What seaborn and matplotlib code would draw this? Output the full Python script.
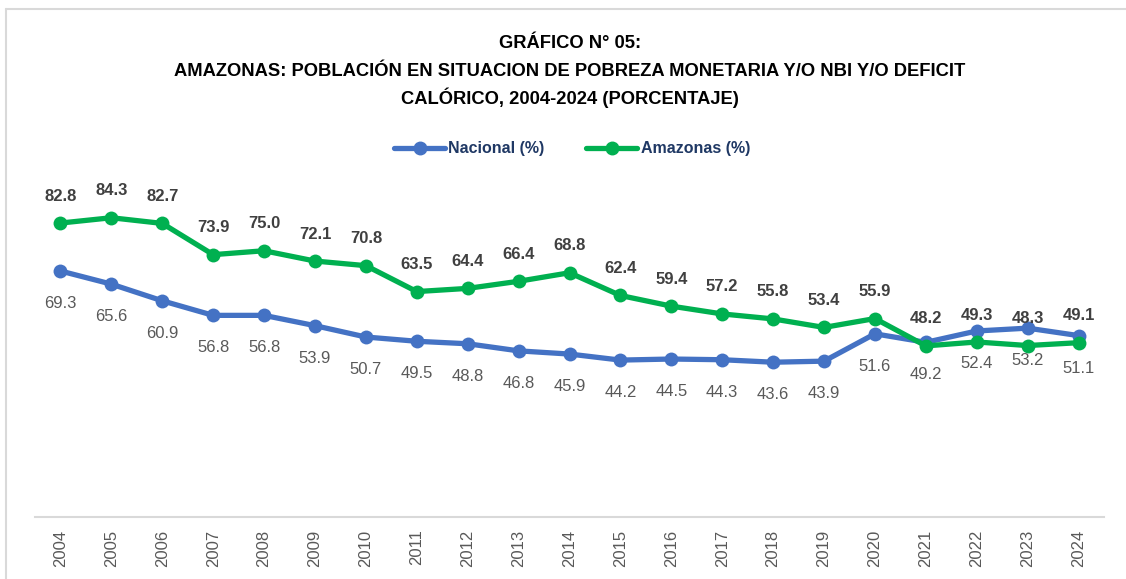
import matplotlib
matplotlib.use("Agg")
import matplotlib.pyplot as plt
import seaborn as sns
import pandas as pd
from matplotlib.lines import Line2D

years = [str(y) for y in range(2004, 2025)]
nacional = [69.3, 65.6, 60.9, 56.8, 56.8, 53.9, 50.7, 49.5, 48.8, 46.8, 45.9,
            44.2, 44.5, 44.3, 43.6, 43.9, 51.6, 49.2, 52.4, 53.2, 51.1]
amazonas = [82.8, 84.3, 82.7, 73.9, 75.0, 72.1, 70.8, 63.5, 64.4, 66.4, 68.8,
            62.4, 59.4, 57.2, 55.8, 53.4, 55.9, 48.2, 49.3, 48.3, 49.1]
series_names = ["Nacional (%)", "Amazonas (%)"]
colors = ["#4472C4", "#00B050"]
title_lines = ["GRÁFICO N° 05:",
               "AMAZONAS: POBLACIÓN EN SITUACION DE POBREZA MONETARIA Y/O NBI Y/O DEFICIT",
               "CALÓRICO, 2004-2024 (PORCENTAJE)"]

sns.set_theme(style="white")
plt.rcParams['font.family'] = ['Liberation Sans', 'DejaVu Sans']

df = pd.DataFrame({
    "Año": list(range(len(years))) * 2,
    "Valor": nacional + amazonas,
    "Serie": [series_names[0]] * len(years) + [series_names[1]] * len(years),
})

fig = plt.figure(figsize=(11.26, 5.79), dpi=100)
ax = fig.add_axes([35/1126, 62/579, (1104-35)/1126, 355/579])

sns.lineplot(data=df, x="Año", y="Valor", hue="Serie", palette=colors,
             hue_order=series_names, marker="o", markersize=10, linewidth=3.8,
             markeredgewidth=0, ax=ax, legend=False, sort=False)

ax.set_xlim(-0.5, len(years) - 0.5)
ax.set_ylim(0, 100)
ax.set_xticks(range(len(years)))
ax.set_xticklabels(years, rotation=90, fontsize=12, color="#595959")
ax.tick_params(axis="x", length=0, pad=9)
ax.set_yticks([])
ax.set_xlabel("")
ax.set_ylabel("")
for s in ["top", "right", "left"]:
    ax.spines[s].set_visible(False)
ax.spines["bottom"].set_color("#D9D9D9")
ax.spines["bottom"].set_linewidth(1.5)

for i, (n, a) in enumerate(zip(nacional, amazonas)):
    ax.annotate(f"{a:.1f}", (i, a), xytext=(0, 14), textcoords="offset points",
                ha="center", va="bottom", fontsize=12, fontweight="bold", color="#404040")
    ax.annotate(f"{n:.1f}", (i, n), xytext=(0, -18), textcoords="offset points",
                ha="center", va="top", fontsize=12, color="#595959")

for line, ypx in zip(title_lines, [44, 71, 98]):
    fig.text(0.506, 1 - ypx/579, line, ha="center", va="center", fontsize=13.2,
             fontweight="bold", color="black")

handles = [Line2D([0], [0], color=c, lw=3.8, marker="o", markersize=9) for c in colors]
leg = fig.legend(handles, series_names, loc="center", bbox_to_anchor=(0.508, 1 - 149/579),
                 ncol=2, frameon=False, handlelength=3.2, columnspacing=2.6, handletextpad=0.2,
                 prop={"weight": "bold", "size": 11.5})
for t in leg.get_texts():
    t.set_color("#1F3864")

# chart border (top and left)
fig.add_artist(Line2D([6/1126, 6/1126], [0, 1 - 9/579], transform=fig.transFigure,
                      color="#D9D9D9", lw=1.5))
fig.add_artist(Line2D([6/1126, 1], [1 - 9/579, 1 - 9/579], transform=fig.transFigure,
                      color="#D9D9D9", lw=1.5))

fig.savefig("out.png", dpi=100, facecolor="white")
